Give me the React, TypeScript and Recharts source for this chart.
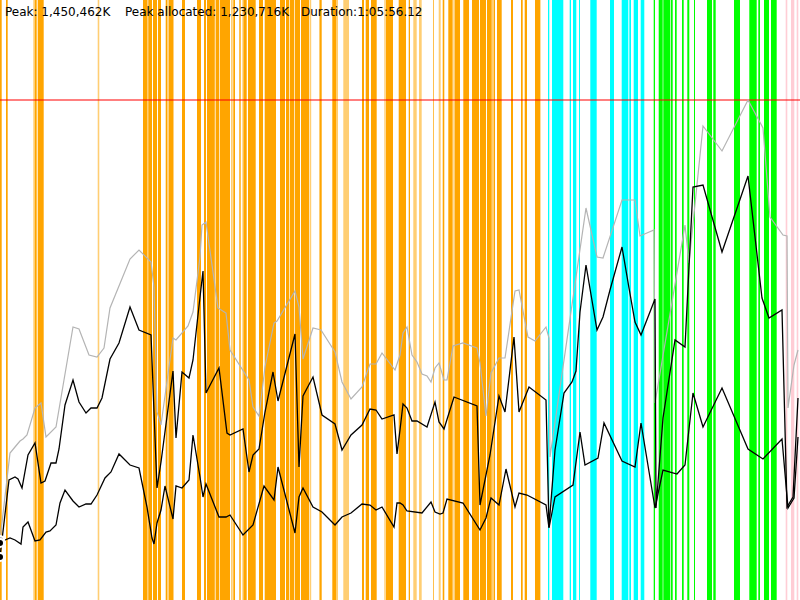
import React from "react";
import {
  LineChart,
  Line,
  XAxis,
  YAxis,
  ReferenceArea,
  ReferenceLine,
} from "recharts";

// time axis runs 0..800 (whole run), memory axis 0..600 with the peak at 500
const peakLevel = 500;

const headerItems = [
  { text: "Peak: 1,450,462K", left: 5 },
  { text: "Peak allocated: 1,230,716K", left: 125 },
  { text: "Duration:1:05:56.12", left: 301 },
];

// phase bands [start, end]
const orangeBands: [number, number][] = [
  [0, 1.7], [6, 7.7], [35, 36.7], [37.7, 43.7], [143, 147], [148.3, 152],
  [153, 157], [158, 161], [165.7, 167.5], [168.5, 173.5], [182, 185],
  [197, 201], [204, 206], [207, 214.8], [215.6, 219.3], [220, 230],
  [233.3, 235], [239.3, 240.7], [243.3, 246.7], [248, 255.7], [259, 263],
  [264.7, 276], [280, 285], [286, 289], [289.7, 294.3], [295, 300],
  [301, 309], [319.7, 321.7], [332.3, 336], [362, 364], [365.7, 369],
  [371, 376.7], [385.7, 393], [398.7, 406], [408.7, 410], [433, 433.7],
  [442.7, 444.3], [448.3, 452.7], [455, 460], [463.3, 469], [472, 479],
  [480, 486], [487, 491.7], [494, 495], [497, 501.7], [511, 513],
  [521, 522.7], [524.7, 527], [535, 540],
];
const lightOrangeBands: [number, number][] = [
  [33.3, 35], [97.7, 99.3], [147, 148.3], [231, 232.7], [242, 242.7],
  [309.5, 311.2], [319, 319.7], [336, 338], [343.3, 349], [384.3, 385.3],
  [413.3, 416.7], [419, 421.7], [438.7, 440.7], [453.3, 455], [491.7, 494],
  [540, 540.7],
];
const cyanBands: [number, number][] = [
  [548, 549.3], [552, 563.3], [569.7, 571], [573, 576.3], [579, 580],
  [590.3, 596.7], [610, 614], [621.7, 628.3], [629.3, 631], [633.7, 638],
  [640.7, 644.3],
];
const greenBands: [number, number][] = [
  [653.7, 655], [658.7, 662.7], [663.3, 670], [670.7, 672.7], [675, 676.7],
  [682, 683.7], [687.3, 689.3], [694, 695], [707, 712], [713.3, 715.7],
  [734, 740], [749.3, 756.7], [758.3, 760], [764, 769], [771, 776.7],
];
const pinkBands: [number, number][] = [
  [785.7, 787.3], [791, 794.3], [796.7, 798.3],
];

// committed heap (gray)
const committedT = [
  0, 10, 15, 20, 23, 27, 35, 41, 46, 56, 73, 79, 89, 97, 104, 110, 130, 139,
  151, 154, 157, 161, 173, 176, 188, 193, 200, 202, 206, 218, 226, 230, 249,
  253, 259, 265, 274, 277, 295, 299, 303, 313, 321, 335, 342, 351, 362, 370,
  376, 382, 395, 400, 403, 407, 412, 417, 422, 427, 431, 435, 439, 444, 447,
  453, 463, 477, 480, 486, 491, 499, 505, 515, 519, 528, 535, 546, 549, 550,
  586, 597, 603, 622, 635, 640, 654, 655, 685, 689, 703, 722, 748, 763, 770,
  783, 787, 788, 794, 798,
];
const committedV = [
  60, 147, 153, 159, 161, 165, 192, 197, 163, 173, 273, 271, 245, 243, 252,
  292, 341, 350, 338, 313, 188, 175, 262, 260, 274, 288, 343, 375, 378, 292,
  287, 250, 220, 193, 184, 233, 277, 279, 309, 293, 241, 272, 270, 248, 218,
  201, 213, 236, 236, 247, 230, 245, 267, 273, 245, 238, 226, 224, 218, 232,
  237, 220, 220, 254, 257, 252, 237, 184, 227, 242, 242, 309, 310, 263, 259,
  273, 262, 143, 392, 343, 342, 400, 400, 364, 370, 197, 375, 337, 474, 449,
  500, 472, 383, 365, 364, 192, 235, 250,
];

// allocated after collection (upper black)
const allocatedT = [
  0, 9, 15, 18, 22, 28, 35, 41, 45, 51, 56, 59, 65, 73, 79, 86, 91, 97, 102,
  110, 119, 130, 139, 151, 157, 161, 173, 176, 182, 189, 193, 200, 203, 206,
  219, 227, 230, 243, 249, 253, 259, 265, 273, 278, 295, 299, 303, 313, 322,
  335, 342, 351, 362, 370, 376, 382, 394, 397, 400, 403, 407, 412, 417, 427,
  435, 439, 444, 454, 477, 480, 490, 499, 505, 514, 519, 529, 546, 549, 555,
  564, 572, 576, 580, 586, 597, 603, 610, 622, 629, 635, 641, 655, 656, 663,
  675, 685, 693, 703, 722, 748, 762, 769, 782, 787, 793, 798,
];
const allocatedV = [
  43, 120, 123, 121, 112, 145, 157, 117, 119, 137, 137, 151, 195, 220, 198,
  187, 192, 192, 202, 241, 257, 293, 270, 265, 112, 138, 229, 162, 228, 222,
  240, 303, 329, 207, 232, 167, 165, 171, 128, 145, 151, 188, 228, 199, 266,
  133, 204, 223, 185, 176, 150, 165, 175, 191, 190, 181, 185, 146, 170, 196,
  192, 179, 179, 173, 198, 178, 171, 203, 194, 95, 145, 204, 188, 263, 188,
  213, 200, 73, 150, 207, 218, 229, 288, 335, 270, 283, 310, 353, 312, 278,
  265, 301, 92, 182, 260, 253, 413, 415, 348, 424, 302, 282, 290, 93, 103,
  202,
];

// live data (lower black)
const liveT = [
  0, 5, 10, 15, 21, 23, 28, 35, 40, 46, 50, 56, 60, 65, 73, 79, 86, 91, 97,
  105, 111, 119, 130, 139, 147, 152, 154, 157, 161, 165, 173, 176, 182, 189,
  193, 200, 203, 206, 219, 226, 230, 243, 253, 264, 274, 278, 295, 299, 303,
  313, 322, 335, 342, 351, 362, 370, 376, 382, 394, 397, 400, 403, 407, 422,
  431, 435, 440, 443, 447, 463, 480, 486, 491, 499, 506, 515, 519, 527, 546,
  549, 555, 573, 580, 585, 598, 604, 622, 635, 641, 655, 663, 677, 685, 693,
  703, 722, 748, 763, 782, 788, 794, 798,
];
const liveV = [
  57, 60, 62, 60, 56, 73, 78, 59, 60, 68, 69, 75, 97, 110, 99, 93, 96, 96,
  105, 122, 128, 146, 135, 132, 93, 62, 56, 77, 90, 114, 81, 114, 112, 120,
  165, 123, 103, 116, 83, 83, 85, 65, 75, 114, 100, 133, 67, 103, 112, 93, 88,
  75, 83, 87, 96, 95, 90, 93, 73, 97, 97, 95, 89, 87, 98, 88, 86, 87, 101, 97,
  70, 82, 102, 95, 131, 93, 107, 105, 95, 72, 103, 115, 168, 135, 142, 177,
  139, 133, 177, 92, 130, 126, 135, 207, 173, 212, 151, 141, 161, 92, 102,
  163,
];

const toRows = (t: number[], v: number[]) => t.map((x, i) => ({ t: x, v: v[i] }));

const committed = toRows(committedT, committedV);
const allocated = toRows(allocatedT, allocatedV);
const live = toRows(liveT, liveV);

const bandGroups = [
  { bands: orangeBands, fill: "#ffa500", opacity: 1 },
  { bands: lightOrangeBands, fill: "#ffa500", opacity: 0.55 },
  { bands: cyanBands, fill: "#00ffff", opacity: 1 },
  { bands: greenBands, fill: "#00ff00", opacity: 1 },
  { bands: pinkBands, fill: "#ffc0cb", opacity: 0.8 },
];

export default function App() {
  return (
    <div style={{ position: "absolute", left: 0, top: 0, width: 800, height: 600, background: "#fff" }}>
      <LineChart
        width={800}
        height={600}
        margin={{ top: 0, right: 0, bottom: 0, left: 0 }}
      >
        <XAxis type="number" dataKey="t" domain={[0, 800]} hide allowDataOverflow />
        <YAxis type="number" domain={[0, 600]} hide allowDataOverflow />
        {bandGroups.map((g, gi) =>
          g.bands.map(([a, b], i) => (
            <ReferenceArea
              key={`${gi}-${i}`}
              x1={a}
              x2={b}
              fill={g.fill}
              fillOpacity={g.opacity}
              stroke="none"
              ifOverflow="extendDomain"
            />
          ))
        )}
        <ReferenceLine y={peakLevel} stroke="#ff0000" strokeOpacity={0.5} strokeWidth={2} />
        <Line
          data={committed}
          dataKey="v"
          type="linear"
          stroke="#b4b4b4"
          strokeWidth={1.2}
          dot={false}
          isAnimationActive={false}
        />
        <Line
          data={allocated}
          dataKey="v"
          type="linear"
          stroke="#000"
          strokeWidth={1.3}
          dot={false}
          isAnimationActive={false}
        />
        <Line
          data={live}
          dataKey="v"
          type="linear"
          stroke="#000"
          strokeWidth={1.3}
          dot={false}
          isAnimationActive={false}
        />
      </LineChart>
      {headerItems.map((h) => (
        <div
          key={h.text}
          style={{
            position: "absolute",
            left: h.left,
            top: 5,
            fontFamily: "DejaVu Sans, sans-serif",
            fontSize: 12,
            lineHeight: "14px",
            color: "#000",
            whiteSpace: "pre",
          }}
        >
          {h.text}
        </div>
      ))}
    </div>
  );
}
